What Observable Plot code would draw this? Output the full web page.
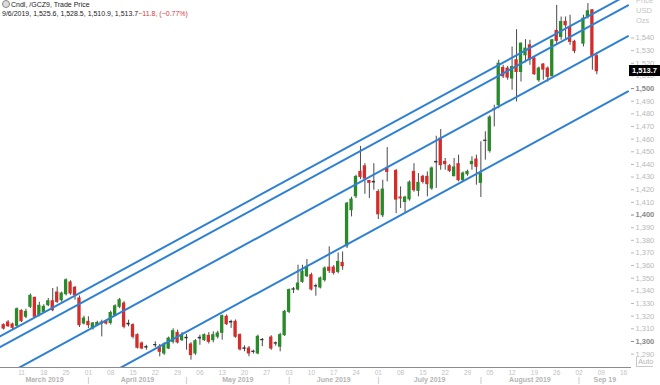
<!DOCTYPE html>
<html><head><meta charset="utf-8">
<script src="https://cdn.jsdelivr.net/npm/d3@7"></script>
<script src="https://cdn.jsdelivr.net/npm/@observablehq/plot@0.6"></script>
<style>
html,body{margin:0;padding:0;background:#fff;}
#wrap{position:relative;width:660px;height:385px;overflow:hidden;font-family:"Liberation Sans",Arial,sans-serif;}
#wrap svg{position:absolute;left:0;top:0;}
.ov{position:absolute;white-space:nowrap;}
#hdr{left:2px;top:0px;font-size:7px;line-height:9px;color:#222;}
#hdr .icon{display:inline-block;width:6px;height:6px;border:1.5px solid #8a8a8a;border-radius:50%;background:#dcdcdc;vertical-align:-1px;margin-right:1px;}
#hdr .neg{color:#d23a3a;}
#units{left:636px;top:-4px;font-size:7.5px;line-height:10px;color:#c4c4c4;}
#pbox{left:629px;width:31px;height:11px;background:#000;color:#fff;font-size:7.5px;font-weight:bold;line-height:11px;text-align:center;}
#auto{left:636px;top:357px;font-size:7.5px;line-height:9px;color:#b8b8b8;border-bottom:1px solid #c8c8c8;border-left:1px solid #c8c8c8;padding-left:1px;}
</style></head><body><div id="wrap"></div>
<script>
// ---- data ----
const dates = [
"2019-03-05","2019-03-06","2019-03-07","2019-03-08",
"2019-03-11","2019-03-12","2019-03-13","2019-03-14","2019-03-15",
"2019-03-18","2019-03-19","2019-03-20","2019-03-21","2019-03-22",
"2019-03-25","2019-03-26","2019-03-27","2019-03-28","2019-03-29",
"2019-04-01","2019-04-02","2019-04-03","2019-04-04","2019-04-05",
"2019-04-08","2019-04-09","2019-04-10","2019-04-11","2019-04-12",
"2019-04-15","2019-04-16","2019-04-17","2019-04-18",
"2019-04-22","2019-04-23","2019-04-24","2019-04-25","2019-04-26",
"2019-04-29","2019-04-30","2019-05-01","2019-05-02","2019-05-03",
"2019-05-06","2019-05-07","2019-05-08","2019-05-09","2019-05-10",
"2019-05-13","2019-05-14","2019-05-15","2019-05-16","2019-05-17",
"2019-05-20","2019-05-21","2019-05-22","2019-05-23","2019-05-24",
"2019-05-28","2019-05-29","2019-05-30","2019-05-31",
"2019-06-03","2019-06-04","2019-06-05","2019-06-06","2019-06-07",
"2019-06-10","2019-06-11","2019-06-12","2019-06-13","2019-06-14",
"2019-06-17","2019-06-18","2019-06-19","2019-06-20","2019-06-21",
"2019-06-24","2019-06-25","2019-06-26","2019-06-27","2019-06-28",
"2019-07-01","2019-07-02","2019-07-03","2019-07-05",
"2019-07-08","2019-07-09","2019-07-10","2019-07-11","2019-07-12",
"2019-07-15","2019-07-16","2019-07-17","2019-07-18","2019-07-19",
"2019-07-22","2019-07-23","2019-07-24","2019-07-25","2019-07-26",
"2019-07-29","2019-07-30","2019-07-31","2019-08-01","2019-08-02",
"2019-08-05","2019-08-06","2019-08-07","2019-08-08","2019-08-09",
"2019-08-12","2019-08-13","2019-08-14","2019-08-15","2019-08-16",
"2019-08-19","2019-08-20","2019-08-21","2019-08-22","2019-08-23",
"2019-08-26","2019-08-27","2019-08-28","2019-08-29","2019-08-30",
"2019-09-03","2019-09-04","2019-09-05","2019-09-06"];

const open = [
1312.9,1315.0,1313.4,1312.3,
1324.2,1319.5,1327.4,1334.5,1320.8,
1323.4,1328.7,1331.8,1338.7,1332.6,
1337.4,1346.6,1342.4,1334.0,1314.2,
1315.5,1310.2,1312.9,1315.0,1316.0,
1314.6,1320.5,1327.4,1330.0,1314.0,
1312.9,1305.0,1298.4,1295.5,
1297.2,1295.8,1290.5,1294.4,1299.7,
1306.8,1301.0,1302.9,1297.6,1290.5,
1302.9,1301.0,1304.4,1301.0,1303.7,
1306.8,1319.5,1315.4,1315.5,1305.0,
1294.5,1294.4,1291.9,1290.5,1301.2,
1303.1,1298.3,1295.8,1305.0,
1323.4,1341.2,1341.1,1347.1,1351.6,
1352.4,1343.7,1342.7,1348.5,1358.4,
1358.4,1355.0,1362.1,1375.3,1403.8,
1414.8,1434.1,1438.5,1426.9,1426.2,
1418.2,1399.8,1436.7,1434.8,
1413.8,1410.3,1412.4,1434.1,1419.1,
1430.2,1430.2,1421.0,1442.0,1460.5,
1442.0,1438.6,1430.7,1440.2,1427.5,
1432.3,1440.2,1443.9,1425.4,1458.8,
1450.7,1483.4,1486.8,1516.3,1515.8,
1507.9,1522.4,1513.1,1526.3,1534.2,
1523.7,1506.6,1519.0,1515.8,1509.7,
1545.6,1540.8,1552.7,1548.7,1536.9,
1535.5,1557.2,1561.9,1525.6];

const high = [
1314.0,1316.5,1314.5,1326.5,
1325.0,1325.5,1337.5,1335.0,1331.0,
1329.0,1334.0,1341.9,1343.0,1339.0,
1349.5,1348.0,1343.5,1336.0,1320.0,
1319.5,1315.0,1316.0,1316.8,1317.0,
1324.0,1329.0,1334.0,1331.5,1316.8,
1314.0,1306.0,1299.5,1297.0,
1299.7,1297.6,1299.0,1303.5,1310.0,
1309.0,1307.0,1305.5,1299.0,1301.5,
1305.0,1306.0,1307.0,1307.6,1308.0,
1321.0,1321.0,1316.8,1317.0,1306.0,
1296.5,1296.0,1293.1,1305.0,1302.4,
1304.5,1299.6,1306.5,1324.5,
1341.5,1342.7,1360.3,1360.3,1364.8,
1354.0,1345.3,1351.0,1359.0,1374.8,
1360.0,1370.0,1370.8,1410.0,1414.0,
1431.5,1454.3,1440.6,1427.5,1440.6,
1420.0,1427.5,1453.3,1436.0,
1422.2,1414.8,1427.0,1440.6,1432.8,
1431.5,1434.1,1438.0,1462.3,1467.6,
1444.7,1440.0,1444.7,1447.3,1434.0,
1435.5,1446.0,1447.3,1457.9,1465.8,
1478.5,1486.8,1522.4,1518.4,1517.6,
1532.9,1546.6,1536.1,1538.7,1538.2,
1525.0,1517.0,1519.7,1517.1,1538.7,
1565.8,1556.6,1556.6,1558.0,1538.2,
1558.0,1567.2,1562.4,1528.5];

const low = [
1309.0,1311.0,1309.5,1311.0,
1315.0,1318.0,1326.0,1318.5,1319.5,
1322.0,1327.5,1323.5,1330.0,1331.0,
1336.0,1336.5,1332.6,1311.0,1313.0,
1310.2,1309.0,1312.0,1303.6,1313.0,
1313.0,1319.5,1326.0,1310.0,1311.6,
1302.0,1294.0,1293.5,1293.1,
1295.0,1287.8,1289.0,1293.5,1298.0,
1298.0,1300.0,1293.1,1285.2,1289.0,
1297.0,1300.0,1298.0,1298.9,1302.0,
1301.0,1312.5,1310.3,1302.5,1292.5,
1291.8,1287.9,1290.0,1289.5,1295.8,
1293.0,1296.3,1291.8,1304.0,
1322.0,1337.9,1340.0,1346.0,1350.5,
1340.0,1335.8,1341.5,1347.0,1353.7,
1352.5,1353.5,1356.3,1373.5,1398.5,
1413.0,1428.0,1416.4,1413.0,1419.6,
1396.4,1398.0,1426.2,1401.1,
1405.1,1401.1,1411.0,1418.0,1414.4,
1424.5,1414.4,1419.5,1421.0,1435.4,
1435.4,1433.5,1430.2,1426.2,1426.0,
1430.7,1435.4,1423.6,1413.8,1443.4,
1449.0,1469.7,1484.0,1507.9,1506.6,
1498.7,1489.4,1505.2,1520.3,1518.4,
1510.5,1505.0,1506.6,1505.2,1509.7,
1534.2,1538.2,1538.2,1534.2,1527.6,
1532.9,1555.0,1514.5,1510.9];

const close = [
1310.2,1312.1,1310.8,1325.5,
1316.0,1323.4,1336.1,1319.5,1328.2,
1327.4,1331.8,1324.7,1331.3,1337.9,
1348.4,1337.9,1336.6,1312.9,1318.1,
1312.9,1314.2,1314.7,1314.0,1314.2,
1322.5,1327.8,1332.6,1311.6,1313.5,
1303.7,1295.0,1294.4,1295.2,
1297.0,1291.8,1297.6,1302.3,1308.1,
1299.2,1305.0,1302.5,1289.2,1300.2,
1302.4,1305.0,1299.7,1305.0,1306.3,
1320.0,1313.7,1315.0,1303.7,1293.7,
1294.2,1290.5,1291.7,1303.7,1301.0,
1294.4,1298.6,1305.0,1323.4,
1340.6,1341.0,1345.8,1355.1,1359.0,
1341.1,1343.5,1349.8,1357.7,1355.8,
1354.2,1362.9,1359.5,1409.0,1412.2,
1430.1,1430.1,1428.8,1425.4,1425.8,
1400.6,1420.1,1434.1,1412.2,
1413.1,1413.8,1425.6,1419.6,1425.4,
1426.2,1424.4,1436.8,1441.6,1439.4,
1440.2,1434.9,1437.6,1427.5,1432.8,
1434.1,1442.0,1438.1,1432.8,1458.6,
1477.1,1483.3,1519.7,1509.7,1508.7,
1517.1,1513.1,1535.5,1531.6,1522.9,
1511.3,1515.8,1515.0,1509.2,1538.2,
1537.7,1552.7,1550.0,1536.9,1529.7,
1555.3,1561.1,1525.5,1513.7];

// regression-channel lines: start / end dates and prices of the four parallel lines
const channelDates = ["2019-03-04", "2019-09-17"];
const channelStart = [1303.6, 1295.1, 1270.7, 1227.0];
const channelEnd   = [1574.3, 1565.8, 1541.4, 1497.7];

// axis ticks
const weekTicks = ["2019-03-11","2019-03-18","2019-03-25","2019-04-01","2019-04-08","2019-04-15","2019-04-22","2019-04-29",
  "2019-05-06","2019-05-13","2019-05-20","2019-05-27","2019-06-03","2019-06-10","2019-06-17","2019-06-24",
  "2019-07-01","2019-07-08","2019-07-15","2019-07-22","2019-07-29","2019-08-05","2019-08-12","2019-08-19",
  "2019-08-26","2019-09-02","2019-09-09","2019-09-16"];
const monthStarts = ["2019-04-01","2019-05-01","2019-06-03","2019-07-01","2019-08-01","2019-09-02"];
const monthLabels = ["March 2019","April 2019","May 2019","June 2019","July 2019","August 2019","Sep 19"];
const priceTicks = d3.range(1290, 1541, 10);
const boldTicks = [1300, 1400, 1500];

// ---- helpers: trading-day slot (weekdays counted from 2019-03-11) ----
const base = Date.UTC(2019, 2, 11);
function slot(s) {
  const days = Math.round((Date.parse(s + "T00:00:00Z") - base) / 864e5);
  const w = Math.floor(days / 7), r = days - w * 7;
  return w * 5 + Math.min(r, 5);
}
const candles = dates.map((d, i) => ({x: slot(d), o: open[i], h: high[i], l: low[i], c: close[i]}));
const chan = [];
channelStart.forEach((p, k) => {
  chan.push({k, x: slot(channelDates[0]), p});
  chan.push({k, x: slot(channelDates[1]), p: channelEnd[k]});
});
const weekMap = new Map(weekTicks.map(d => [slot(d), d.slice(8, 10)]));
const xDomain = [-4.709, 136.55];
const bounds = [xDomain[0], ...monthStarts.map(slot), xDomain[1]];
const months = monthLabels.map((label, i) => ({label, x: (bounds[i] + bounds[i + 1]) / 2}));
const seps = monthStarts.map(d => ({x: slot(d)}));

const GREEN = "#2a8a2a", RED = "#d42b2b", BLUE = "#2f80d2";
const fillOf = d => Math.abs(d.c - d.o) < 0.6 ? "#333" : (d.c > d.o ? GREEN : RED);

const plot = Plot.plot({
  width: 660, height: 385,
  marginLeft: 0, marginRight: 30, marginTop: 0, marginBottom: 18,
  x: {domain: xDomain},
  y: {domain: [1279.4, 1569.65]},
  style: {fontFamily: '"Liberation Sans", Arial, sans-serif', background: "white", overflow: "visible"},
  marks: [
    Plot.axisY(priceTicks.filter(t => !boldTicks.includes(t)), {anchor: "right", tickSize: 3, tickPadding: 2,
      tickFormat: d3.format(","), fontSize: 7.5, color: "#b8b8b8", label: null}),
    Plot.axisY(boldTicks, {anchor: "right", tickSize: 3, tickPadding: 2,
      tickFormat: d3.format(","), fontSize: 7.5, fontWeight: "bold", color: "#8a8a8a", label: null}),
    Plot.axisX([...weekMap.keys()], {anchor: "bottom", tickSize: 0, tickPadding: 2.5,
      tickFormat: d => weekMap.get(d), fontSize: 6.5, color: "#c2c2c2", label: null}),
    Plot.frame({anchor: "bottom", stroke: "#8c8c8c"}),
    Plot.text(months, {x: "x", text: "label", frameAnchor: "bottom", dy: 14.5, fontSize: 7, fontWeight: "bold", fill: "#b4b4b4"}),
    Plot.text(seps, {x: "x", text: () => "|", frameAnchor: "bottom", dy: 14.5, fontSize: 7, fill: "#a8a8a8"}),
    Plot.ruleX(candles, {x: "x", y1: "l", y2: "h", stroke: "#4a4a4a", strokeWidth: 1}),
    Plot.rect(candles, {x1: d => d.x - 0.37, x2: d => d.x + 0.37,
      y1: d => Math.min(d.o, d.c) - 0.4, y2: d => Math.max(d.o, d.c) + 0.4, fill: fillOf}),
    Plot.line(chan, {x: "x", y: "p", z: "k", stroke: BLUE, strokeWidth: 2, clip: true})
  ]
});

const wrap = document.getElementById("wrap");
wrap.appendChild(plot);

const fmt = d3.format(",.1f");
const n = close.length - 1;
const chg = close[n] - close[n - 1];
const [yy, mm, dd] = dates[n].split("-");
const hdr = document.createElement("div");
hdr.className = "ov"; hdr.id = "hdr";
hdr.innerHTML = `<span class="icon"></span>Cndl, /GCZ9, Trade Price<br>` +
  `${+mm}/${+dd}/${yy}, ${fmt(open[n])}, ${fmt(high[n])}, ${fmt(low[n])}, ${fmt(close[n])}` +
  `<span class="neg">${d3.format(".1f")(chg)}, (${d3.format(".2f")(chg / close[n - 1] * 100)}%)</span>`;
wrap.appendChild(hdr);

const units = document.createElement("div");
units.className = "ov"; units.id = "units";
units.innerHTML = "Price<br>USD<br>Ozs";
wrap.appendChild(units);

const yScale = plot.scale("y");
const pb = document.createElement("div");
pb.className = "ov"; pb.id = "pbox";
pb.style.top = (yScale.apply(close[n]) - 5.5) + "px";
pb.textContent = fmt(close[n]);
wrap.appendChild(pb);

const auto = document.createElement("div");
auto.className = "ov"; auto.id = "auto";
auto.textContent = "Auto";
wrap.appendChild(auto);
</script></body></html>
